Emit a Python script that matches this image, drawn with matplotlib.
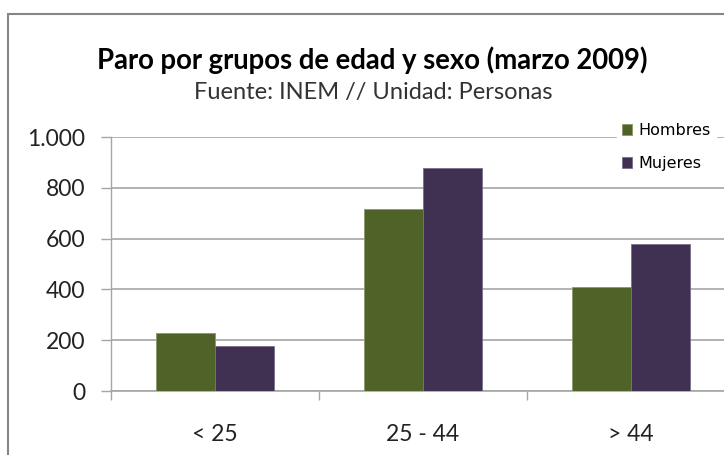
import numpy as np
import matplotlib.pyplot as plt
from matplotlib.patches import Rectangle

# data
grupos = ["< 25", "25 - 44", "> 44"]
hombres = [230, 716, 408]
mujeres = [179, 879, 579]
yticks = [0, 200, 400, 600, 800, 1000]
ylabels = ["0", "200", "400", "600", "800", "1.000"]

W, H = 724, 455
fig = plt.figure(figsize=(W / 100, H / 100), dpi=100)
fig.patch.set_facecolor("white")

# plot area runs off the right edge like in the screenshot
ax = fig.add_axes([111 / W, 64 / H, 624 / W, 254 / H])
x = np.arange(len(grupos))
bw = 0.284
ax.bar(x - bw / 2, hombres, bw, color="#4F6228", edgecolor="#8a9a6a", lw=0.6,
       label="Hombres", zorder=3)
ax.bar(x + bw / 2, mujeres, bw, color="#403152", edgecolor="#7a6e8a", lw=0.6,
       label="Mujeres", zorder=3)

ax.set_xlim(-0.5, 2.5)
ax.set_ylim(0, 1000)
ax.set_yticks(yticks)
ax.set_yticklabels(ylabels, fontsize=16.5, family="Lato", color="#222222")
ax.yaxis.grid(True, color="#A6A6A6", lw=1.2, zorder=0)
ax.set_axisbelow(True)

ax.set_xticks(x)
ax.set_xticklabels(grupos, fontsize=16.5, family="Lato", color="#222222")
ax.set_xticks([-0.5, 0.5, 1.5], minor=True)
ax.tick_params(axis="x", which="major", length=0, pad=24)
ax.tick_params(axis="x", which="minor", length=6.5, color="#A6A6A6", width=1)
ax.tick_params(axis="y", length=7, color="#A6A6A6", width=1, pad=11.5)

for s in ["top", "right"]:
    ax.spines[s].set_visible(False)
ax.spines["left"].set_color("#A6A6A6")
ax.spines["bottom"].set_color("#A6A6A6")
ax.spines["left"].set_linewidth(1)
ax.spines["bottom"].set_linewidth(1.2)

fig.text(372 / W, 1 - 60 / H, "Paro por grupos de edad y sexo (marzo 2009)",
         ha="center", va="center", fontsize=19.8, fontweight="bold", family="Lato")
fig.text(373 / W, 1 - 93 / H, "Fuente: INEM // Unidad: Personas",
         ha="center", va="center", fontsize=17, family="Lato", color="#333333")

leg = fig.legend(loc="upper left", bbox_to_anchor=(617 / W, 1 - 118 / H),
                 frameon=True, fancybox=False, edgecolor="white",
                 prop={"family": "DejaVu Sans", "size": 11.5},
                 handlelength=0.65, handleheight=0.65, handletextpad=0.4,
                 labelspacing=1.15, borderpad=0.3, borderaxespad=0)
leg.get_frame().set_facecolor("white")
leg.get_frame().set_alpha(1)

# outer chart border, cut off at right and bottom
fig.patches.append(Rectangle((8 / W, -0.2), 2, 1.2 - 14 / H, transform=fig.transFigure,
                             fill=False, edgecolor="#868686", lw=1.5))

fig.savefig("out.png", dpi=100)
